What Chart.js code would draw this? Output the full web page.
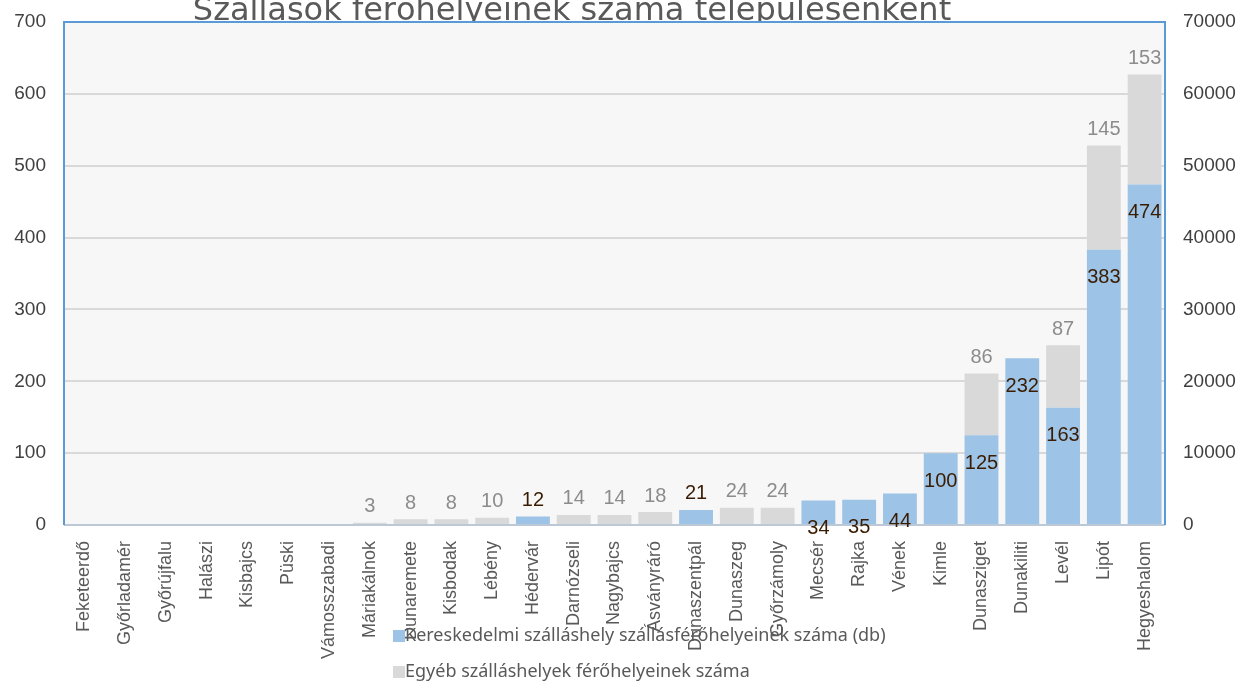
<!DOCTYPE html>
<html><head><meta charset="utf-8">
<script src="https://cdn.jsdelivr.net/npm/chart.js@4/dist/chart.umd.min.js"></script>
<style>html,body{margin:0;padding:0;background:#fff}#wrap{width:1240px;height:697px;position:relative}</style>
</head><body><div id="wrap"><canvas id="c" width="1240" height="697"></canvas></div>
<script>
const categories = ["Feketeerdő","Győrladamér","Győrújfalu","Halászi","Kisbajcs","Püski","Vámosszabadi","Máriakálnok","Dunaremete","Kisbodak","Lébény","Hédervár","Darnózseli","Nagybajcs","Ásványráró","Dunaszentpál","Dunaszeg","Győrzámoly","Mecsér","Rajka","Vének","Kimle","Dunasziget","Dunakiliti","Levél","Lipót","Hegyeshalom"];
const commercial = [null,null,null,null,null,null,null,null,null,null,null,12,null,null,null,21,null,null,34,35,44,100,125,232,163,383,474];
const other = [null,null,null,null,null,null,null,3,8,8,10,null,14,14,18,null,24,24,null,null,null,null,86,null,87,145,153];
const seriesNames = ["Kereskedelmi szálláshely szállásférőhelyeinek száma (db)","Egyéb szálláshelyek férőhelyeinek száma"];
const leftTicks = [0,100,200,300,400,500,600,700];
const rightTicks = [0,10000,20000,30000,40000,50000,60000,70000];
const titleText = "Szállások férőhelyeinek száma településenként";

const NARROW = '"Liberation Sans Narrow","Liberation Sans",Arial,sans-serif';
const TXT = '#595959';

const deco = {
  id:'deco',
  afterLayout(chart){
    const tb = chart.titleBlock;
    if (tb) { tb.left = -48; tb.right = 1192; }
  },
  beforeDatasetsDraw(chart){
    const a = chart.chartArea, ctx = chart.ctx;
    ctx.save();
    ctx.fillStyle = '#f7f7f7';
    ctx.fillRect(a.left, a.top, a.right-a.left, a.bottom-a.top);
    const y = chart.scales.y;
    ctx.strokeStyle = '#d9d9d9'; ctx.lineWidth = 2;
    y.ticks.forEach(t=>{ if(t.value===0||t.value===700) return; const py = Math.round(y.getPixelForValue(t.value));
      ctx.beginPath(); ctx.moveTo(a.left, py); ctx.lineTo(a.right, py); ctx.stroke(); });
    ctx.restore();
  },
  afterDatasetsDraw(chart){
    const a = chart.chartArea, ctx = chart.ctx;
    ctx.save();
    ctx.strokeStyle = '#bcc8d6'; ctx.lineWidth = 2;
    ctx.beginPath(); ctx.moveTo(a.left, a.bottom); ctx.lineTo(a.right, a.bottom); ctx.stroke();
    ctx.strokeStyle = '#5b9bd5'; ctx.lineWidth = 2;
    ctx.beginPath(); ctx.moveTo(a.left, a.bottom); ctx.lineTo(a.left, a.top); ctx.lineTo(a.right, a.top); ctx.lineTo(a.right, a.bottom); ctx.stroke();
    ctx.textAlign = 'center'; ctx.textBaseline = 'middle';
    chart.data.datasets.forEach((ds, di)=>{
      const meta = chart.getDatasetMeta(di);
      meta.data.forEach((el, i)=>{
        const v = ds.data[i];
        if (v === null || v === undefined) return;
        let ly;
        if (di === 0) {
          ctx.fillStyle = '#3a1c02';
          ctx.font = '20px ' + NARROW;
          ly = (v >= 30) ? el.y + 28 : el.y - 16;
        } else {
          ctx.fillStyle = '#8c8c8c';
          ctx.font = '20px ' + NARROW;
          ly = el.y - 16;
        }
        ctx.fillText(String(v), el.x, ly);
      });
    });
    ctx.textAlign = 'left'; ctx.textBaseline = 'middle';
    ctx.font = '18px "Noto Sans",sans-serif';
    const lx = 393, ly0 = 636, dy = 36;
    chart.data.datasets.forEach((ds, di)=>{
      const yy = ly0 + di*dy;
      ctx.fillStyle = ds.backgroundColor;
      ctx.fillRect(lx, yy-6, 12, 12);
      ctx.fillStyle = TXT;
      ctx.fillText(ds.label, lx+12, yy);
    });
    ctx.restore();
  }
};

new Chart(document.getElementById('c'), {
  type:'bar',
  data:{
    labels: categories,
    datasets:[
      {label: seriesNames[0], data: commercial, backgroundColor:'#9dc3e6', stack:'s', yAxisID:'y', barPercentage:0.83, categoryPercentage:1},
      {label: seriesNames[1], data: other, backgroundColor:'#d9d9d9', stack:'s', yAxisID:'y', barPercentage:0.83, categoryPercentage:1}
    ]
  },
  plugins:[deco],
  options:{
    responsive:false, animation:false,
    layout:{padding:{top:0,left:0,right:0,bottom:0}},
    plugins:{
      legend:{display:false},
      tooltip:{enabled:false},
      title:{display:true, text:titleText, color:TXT, font:{size:32, weight:'normal', family:'"DejaVu Sans",sans-serif'}, padding:{top:-7.5,bottom:-8.9}}
    },
    scales:{
      x:{
        stacked:true,
        grid:{display:false},
        border:{display:false},
        ticks:{color:TXT, font:{size:18, family:NARROW}, minRotation:90, maxRotation:90, autoSkip:false, padding:8},
        afterFit(s){ s.height = 172; }
      },
      y:{
        stacked:true, position:'left', min:0, max:700,
        afterBuildTicks(s){ s.ticks = leftTicks.map(v=>({value:v})); },
        grid:{display:false},
        border:{display:false},
        ticks:{color:'#404040', font:{size:19, family:NARROW}, padding:10, callback:v=>String(v)},
        afterFit(s){ s.width = 64; s.paddingTop = 8; s.paddingBottom = 8; }
      },
      y2:{
        position:'right', min:0, max:70000,
        afterBuildTicks(s){ s.ticks = rightTicks.map(v=>({value:v})); },
        grid:{display:false},
        border:{display:false},
        ticks:{color:'#404040', font:{size:19, family:NARROW}, padding:10, callback:v=>String(v)},
        afterFit(s){ s.width = 75; s.paddingTop = 8; s.paddingBottom = 8; }
      }
    }
  }
});
</script>
</body></html>
